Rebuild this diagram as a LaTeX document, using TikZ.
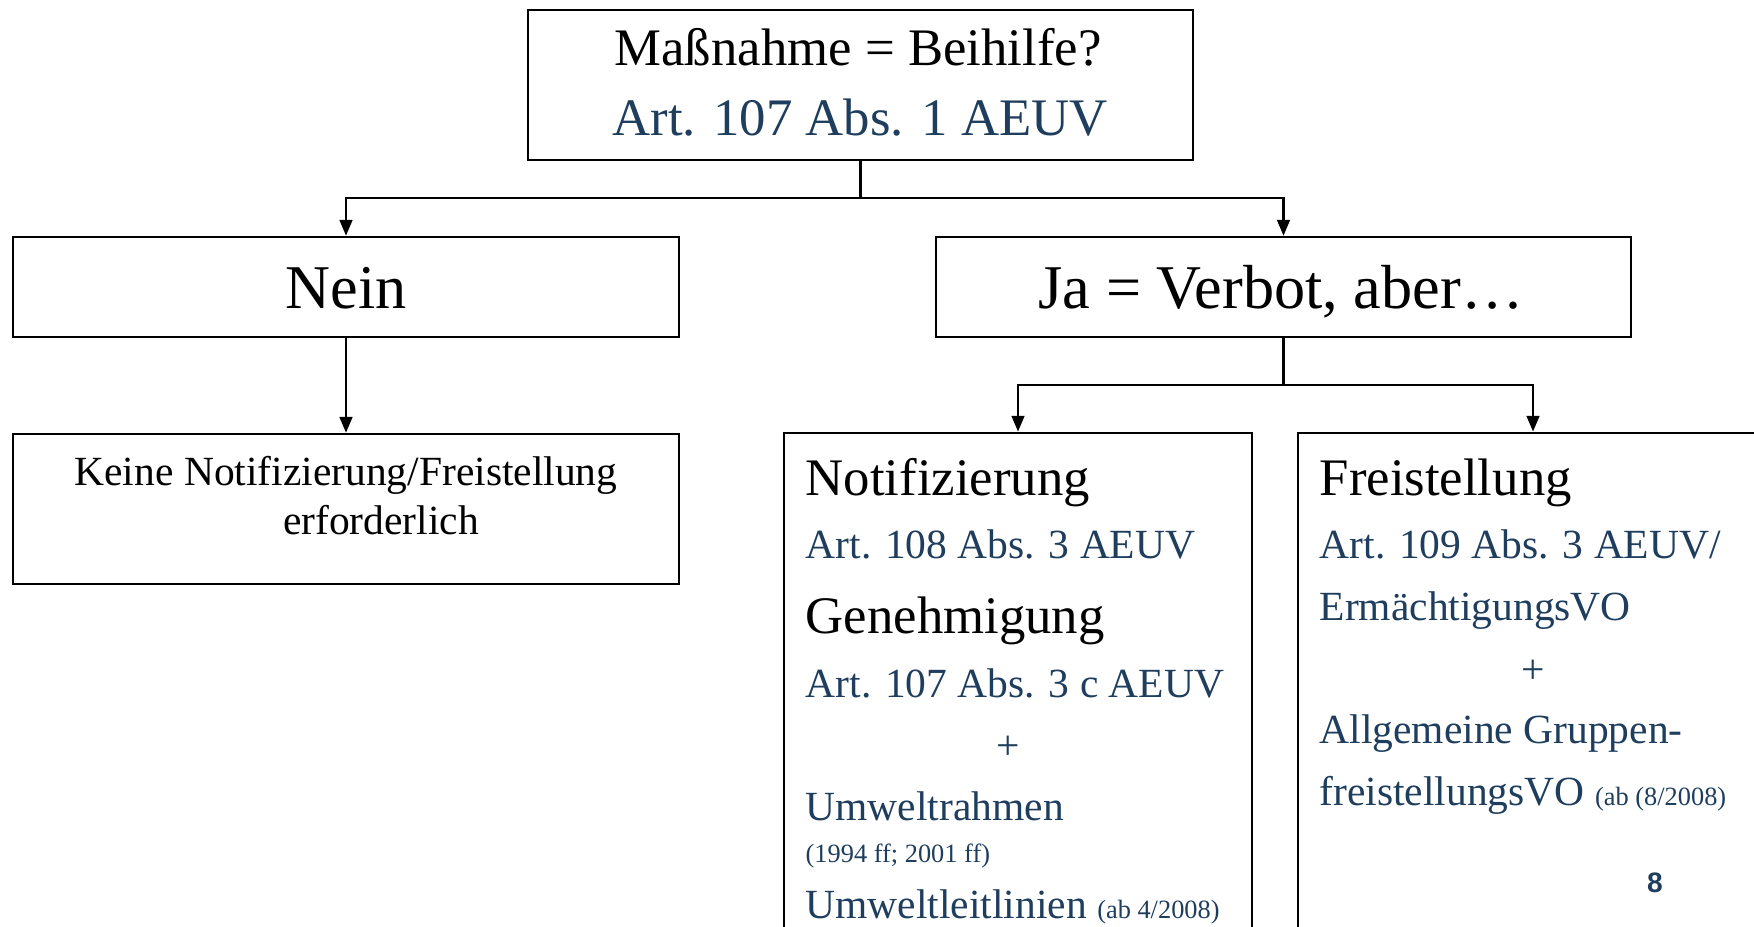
\documentclass[tikz,border=0pt]{standalone}
\usepackage{fontspec}
\setmainfont{Liberation Serif}
\newfontfamily\pagefont{Liberation Sans}
\usepackage{xcolor}
\usepackage{tikz}
\usetikzlibrary{arrows.meta, positioning}
\definecolor{normblue}{RGB}{31,62,94}
\newcommand{\sizeHead}{\fontsize{15}{18}\selectfont}
\newcommand{\sizeAnswer}{\fontsize{17.7}{21}\selectfont}
\newcommand{\sizeNorm}{\fontsize{11.8}{14}\selectfont}
\newcommand{\sizeSmall}{\fontsize{7.5}{9}\selectfont}
\tikzset{
  box/.style={draw, line width=0.7pt, inner sep=0pt},
  txt/.style={inner sep=0pt, anchor=base west},
  ctxt/.style={inner sep=0pt, anchor=base},
  norm/.style={text=normblue},
  link/.style={->, line width=0.7pt},
  >={Triangle[length=4.5pt,width=3.6pt]}
}

\begin{document}
\begin{tikzpicture}[x=0.01cm, y=-0.01cm]
\useasboundingbox (0,0) rectangle (1754,927);
% boxes
\node[box, minimum width=6.65cm, minimum height=1.50cm] (frage) at (860.5,85) {};
\node[box, minimum width=6.66cm, minimum height=1.00cm] (nein) at (346,287) {};
\node[box, minimum width=6.95cm, minimum height=1.00cm] (ja) at (1283.5,287) {};
\node[box, minimum width=6.66cm, minimum height=1.50cm] (keine) at (346,509) {};
\node[box, minimum width=4.68cm, minimum height=5.67cm] (notif) at (1018,716.5) {};
\node[box, minimum width=4.70cm, minimum height=5.67cm] (frei) at (1533,716.5) {};
% texts
\node[ctxt, font=\sizeHead] (frageA) at (858,65) {Maßnahme = Beihilfe?};
\node[ctxt, font=\sizeHead, norm] (frageB) at (860,135) {Art. 107 Abs. 1 AEUV};
\node[ctxt, font=\sizeAnswer] (neinT) at (346,308) {Nein};
\node[ctxt, font=\sizeAnswer] (jaT) at (1281,308) {Ja = Verbot, aber…};
\node[ctxt, font=\sizeNorm] (keineA) at (346,485) {Keine Notifizierung/Freistellung};
\node[ctxt, font=\sizeNorm] (keineB) at (381,534) {erforderlich};

\node[txt, font=\sizeHead] (notA) at (805,495) {Notifizierung};
\node[txt, font=\sizeNorm, norm] (notB) at (805,558) {Art. 108 Abs. 3 AEUV};
\node[txt, font=\sizeHead] (notC) at (805,633) {Genehmigung};
\node[txt, font=\sizeNorm, norm] (notD) at (805,697) {Art. 107 Abs. 3 c AEUV};
\node[ctxt, font=\sizeNorm, norm] (notPlus) at (1008,759) {+};
\node[txt, font=\sizeNorm, norm] (notE) at (805,820) {Umweltrahmen};
\node[txt, font=\sizeSmall, norm] (notF) at (805,862) {(1994 ff; 2001 ff)};
\node[txt, font=\sizeNorm, norm] (notG) at (805,918) {Umweltleitlinien {\sizeSmall (ab 4/2008)}};

\node[txt, font=\sizeHead] (freiA) at (1319,495) {Freistellung};
\node[txt, font=\sizeNorm, norm] (freiB) at (1319,558) {Art. 109 Abs. 3 AEUV/};
\node[txt, font=\sizeNorm, norm] (freiC) at (1319,620) {ErmächtigungsVO};
\node[ctxt, font=\sizeNorm, norm] (freiPlus) at (1533,683) {+};
\node[txt, font=\sizeNorm, norm] (freiD) at (1319,743) {Allgemeine Gruppen-};
\node[txt, font=\sizeNorm, norm] (freiE) at (1319,805) {freistellungsVO {\sizeSmall (ab (8/2008)}};
\node[ctxt, font=\pagefont\bfseries\fontsize{8}{9}\selectfont, norm] (seite) at (1655,892) {8};
% connectors
\coordinate (split1) at (860.5,198);
\coordinate (split2) at (1283.5,385);
\draw[line width=0.7pt] (frage.south) -- (split1);
\draw[link] (split1) -| (nein.north);
\draw[link] (split1) -| (ja.north);
\draw[link] (nein.south) -- (keine.north);
\draw[line width=0.7pt] (ja.south) -- (split2);
\draw[link] (split2) -| (notif.north);
\draw[link] (split2) -| (frei.north);
\end{tikzpicture}
\end{document}
